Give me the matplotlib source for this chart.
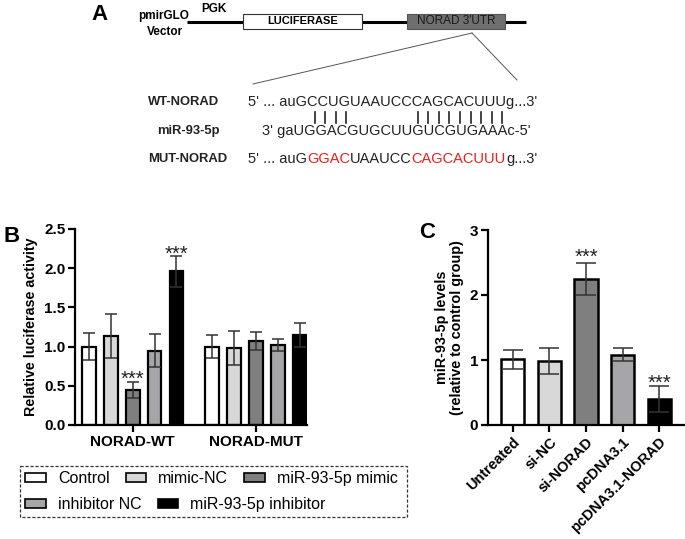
import matplotlib
matplotlib.use("Agg")
import matplotlib.pyplot as plt
from matplotlib.patches import Rectangle, Patch
import numpy as np

plt.rcParams['font.family'] = ['Liberation Sans', 'DejaVu Sans']

# ---------------- data ----------------
groups_b = ["NORAD-WT", "NORAD-MUT"]
series_b = ["Control", "mimic-NC", "miR-93-5p mimic", "inhibitor NC", "miR-93-5p inhibitor"]
colors_b = ["#ffffff", "#d8d8d8", "#7f7f7f", "#a6a6a9", "#000000"]
wt_vals = [1.00, 1.13, 0.45, 0.95, 1.96]
wt_err = [0.17, 0.28, 0.10, 0.21, 0.20]
mut_vals = [1.00, 0.98, 1.07, 1.02, 1.15]
mut_err = [0.15, 0.22, 0.11, 0.08, 0.15]
b_yticks = [0.0, 0.5, 1.0, 1.5, 2.0, 2.5]

cats_c = ["Untreated", "si-NC", "si-NORAD", "pcDNA3.1", "pcDNA3.1-NORAD"]
vals_c = [1.01, 0.99, 2.25, 1.08, 0.40]
err_c = [0.15, 0.20, 0.25, 0.10, 0.20]
colors_c = ["#ffffff", "#d8d8d8", "#7f7f7f", "#a6a6a9", "#000000"]
c_yticks = [0, 1, 2, 3]

W, H = 685, 539
fig = plt.figure(figsize=(W / 100, H / 100), dpi=100)

def fx(px):
    return px / W

def fy(py):
    return 1 - py / H

# overlay axes in pixel coordinates for panel A + decorations
ov = fig.add_axes([0, 0, 1, 1], zorder=-1)
ov.set_xlim(0, W)
ov.set_ylim(H, 0)
ov.axis('off')
ov.patch.set_alpha(0)

# ---------------- Panel A ----------------
ov.text(100, 14, "A", fontsize=16, fontweight='bold', ha='center', va='center')
ov.text(164, 16, "pmirGLO", fontsize=8.5, fontweight='bold', ha='center', va='center')
ov.text(165, 32, "Vector", fontsize=8.5, fontweight='bold', ha='center', va='center')
ov.text(214, 9, "PGK", fontsize=8.5, fontweight='bold', ha='center', va='center')
ov.plot([187, 526], [22, 22], color='black', lw=2.2, solid_capstyle='butt', zorder=1)
ov.add_patch(Rectangle((243, 14), 119, 15, facecolor='white', edgecolor='#333333', lw=0.8, zorder=2))
ov.text(302.5, 21.5, "LUCIFERASE", fontsize=8, fontweight='bold', ha='center', va='center', zorder=3)
ov.add_patch(Rectangle((407, 14), 98, 15, facecolor='#6f6f6f', edgecolor='#555555', lw=0.8, zorder=2))
ov.text(456, 21.5, "NORAD 3'UTR", fontsize=8.5, ha='center', va='center', color='#1a1a1a', zorder=3)
ov.plot([472, 253], [33, 84], color='#555555', lw=0.7)
ov.plot([472, 517], [33, 80], color='#555555', lw=0.7)

lblfs = 9.4
ov.text(148, 102, "WT-NORAD", fontsize=lblfs, fontweight='bold', ha='left', va='center', color='#222222')
ov.text(157, 131, "miR-93-5p", fontsize=lblfs, fontweight='bold', ha='left', va='center', color='#222222')
ov.text(148, 159, "MUT-NORAD", fontsize=lblfs, fontweight='bold', ha='left', va='center', color='#222222')

seqfs = 10.5
ov.text(248, 102, "5' ... auGCCUGUAAUCCCAGCACUUUg...3'", fontsize=seqfs, ha='left', va='center', color='#222222')
ov.text(262, 131, "3' gaUGGACGUGCUUGUCGUGAAAc-5'", fontsize=seqfs, ha='left', va='center', color='#222222')
pipes_x = [315, 325, 336, 346, 418, 428, 439, 449, 460, 471, 481, 492, 502]
for px in pipes_x:
    ov.plot([px, px], [112, 123], color='#222222', lw=1.2)

mut_parts = [("5' ... auG", '#222222'), ("GGAC", '#ee1c1c'), ("UAAUCC", '#222222'),
             ("CAGCACUUU", '#ee1c1c'), ("g...3'", '#222222')]
t = ov.text(248, 159, mut_parts[0][0], fontsize=seqfs, ha='left', va='center', color=mut_parts[0][1])
for s, c in mut_parts[1:]:
    t = ov.annotate(s, xy=(1, 0), xycoords=t, fontsize=seqfs, ha='left', va='bottom', color=c)

# ---------------- Panel B ----------------
axb = fig.add_axes([fx(75), fy(425), fx(307 - 75), (425 - 229) / H])
gx = np.arange(len(groups_b))
step = 0.178
bw = 0.113
offs = (np.arange(len(series_b)) - 2) * step
handles = []
for i, name in enumerate(series_b):
    vals = [wt_vals[i], mut_vals[i]]
    errs = [wt_err[i], mut_err[i]]
    axb.bar(gx + offs[i], vals, width=bw, color=colors_b[i], edgecolor='black',
            linewidth=1.6, zorder=2, label=name)
    axb.errorbar(gx + offs[i], vals, yerr=errs, fmt='none', ecolor='#333333', elinewidth=1.1,
                 capsize=4, capthick=1.1, zorder=3)
    handles.append(Patch(facecolor=colors_b[i], edgecolor='black', linewidth=1.2, label=name))
axb.set_xlim(-0.466, 1.413)
axb.set_ylim(0, 2.5)
axb.set_yticks(b_yticks)
axb.set_yticklabels([f"{v:.1f}" for v in b_yticks])
axb.set_xticks(gx)
axb.set_xticklabels(groups_b, fontweight='bold', fontsize=11)
for lab in axb.get_yticklabels():
    lab.set_fontweight('bold')
    lab.set_fontsize(11)
axb.set_ylabel("Relative luciferase activity", fontsize=10.3, fontweight='bold', labelpad=4)
for s in ['top', 'right']:
    axb.spines[s].set_visible(False)
for s in ['left', 'bottom']:
    axb.spines[s].set_linewidth(1.6)
axb.tick_params(axis='both', width=1.6, length=5, pad=2)
for xi, top, dy in [(gx[0] + offs[4], wt_vals[4] + wt_err[4], -3.0),
                    (gx[0] + offs[2], wt_vals[2] + wt_err[2], -2.0)]:
    axb.annotate("***", xy=(xi, top), xytext=(0, dy), textcoords='offset points',
                 ha='center', va='baseline', fontsize=14.5, color='#222222')
ov.text(12, 237, "B", fontsize=16, fontweight='bold', ha='center', va='center')

# legend
legkw = dict(loc='upper left', frameon=False, fontsize=11.5, handlelength=1.3, handleheight=0.55,
             handletextpad=0.75, columnspacing=1.0, borderaxespad=0, borderpad=0.2)
fig.legend(handles=handles[:3], bbox_to_anchor=(fx(22), fy(468)), ncol=3, **legkw)
fig.legend(handles=handles[3:], bbox_to_anchor=(fx(22), fy(494)), ncol=2, **legkw)
ov.add_patch(Rectangle((20, 466), 387, 51, facecolor='none', edgecolor='#333333', lw=0.9,
                       linestyle=(0, (2.5, 1.5))))

# ---------------- Panel C ----------------
axc = fig.add_axes([fx(488), fy(425), fx(684 - 488), (425 - 230) / H])
cx = np.arange(len(cats_c))
axc.bar(cx, vals_c, width=0.63, color=colors_c, edgecolor='black', linewidth=1.8, zorder=2)
axc.errorbar(cx, vals_c, yerr=err_c, fmt='none', ecolor='#333333', elinewidth=1.1,
             capsize=7, capthick=1.1, zorder=3)
axc.set_xlim(-0.68, 4.68)
axc.set_ylim(0, 3)
axc.set_yticks(c_yticks)
axc.set_xticks(cx)
axc.set_xticklabels(cats_c, rotation=45, ha='right', rotation_mode='anchor', fontweight='bold', fontsize=10.5)
for lab in axc.get_yticklabels():
    lab.set_fontweight('bold')
    lab.set_fontsize(11)
axc.set_ylabel("miR-93-5p levels\n(relative to control group)", fontsize=10.4, fontweight='bold',
               labelpad=4, linespacing=1.1)
for s in ['top', 'right']:
    axc.spines[s].set_visible(False)
for s in ['left', 'bottom']:
    axc.spines[s].set_linewidth(1.6)
axc.tick_params(axis='both', width=1.6, length=5, pad=2)
for xi, top, dy in [(cx[2], vals_c[2] + err_c[2], -0.5), (cx[4], vals_c[4] + err_c[4], -2.0)]:
    axc.annotate("***", xy=(xi, top), xytext=(0, dy), textcoords='offset points',
                 ha='center', va='baseline', fontsize=14.5, color='#222222')
ov.text(427, 232, "C", fontsize=16, fontweight='bold', ha='center', va='center')

fig.savefig("out.png", dpi=100)
